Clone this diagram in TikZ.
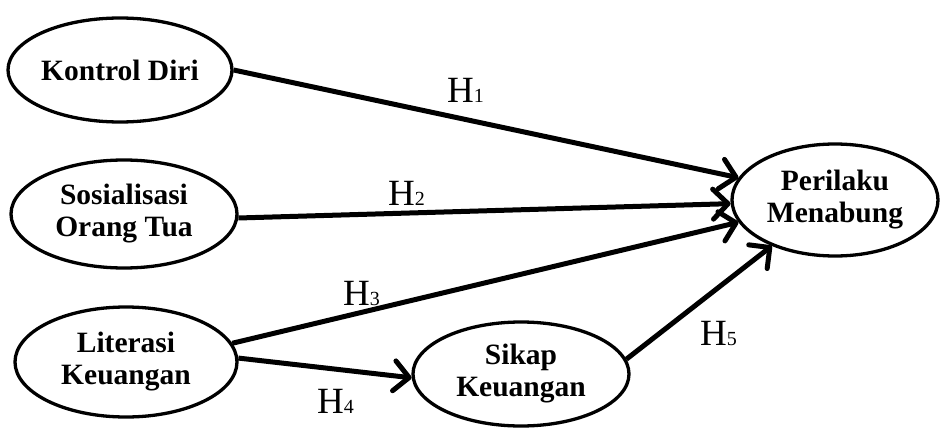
\documentclass[tikz,border=0pt]{standalone}
\usepackage{fontspec}
\setmainfont{Liberation Serif}
\usetikzlibrary{shapes.geometric,arrows.meta}
\tikzset{
  var/.style={ellipse, draw, line width=3.3pt, inner sep=0pt, align=center,
    font=\fontsize{29.5}{32}\selectfont\bfseries},
  path/.style={line width=5pt, -{Straight Barb[length=15pt,width=30pt,line width=5pt,round]}},
  hlab/.style={anchor=base west, inner sep=0pt, font=\fontsize{37}{40}\selectfont}
}
\newcommand{\hyp}[1]{H{\fontsize{20}{22}\selectfont #1}}
\begin{document}
\begin{tikzpicture}[x=1pt,y=-1pt]
\useasboundingbox (0,0) rectangle (942,428);
\node[var, minimum width=224pt, minimum height=104pt] (kd) at (120,70) {Kontrol Diri};
\node[var, minimum width=226pt, minimum height=108pt] (so) at (124,214) {Sosialisasi\\Orang Tua};
\node[var, minimum width=222pt, minimum height=110pt] (li) at (126,362) {Literasi\\Keuangan};
\node[var, minimum width=216pt, minimum height=104pt] (sk) at (521,374) {Sikap\\Keuangan};
\node[var, minimum width=206pt, minimum height=112pt] (pm) at (835,200) {Perilaku\\Menabung};
\draw[path] (kd.east) -- (pm.167);
\draw[path] (so.-2) -- (pm.182);
\draw[path] (li.10) -- (pm.193);
\draw[path] (li.2) -- (sk.182);
\draw[path] (sk.8) -- (pm.216);
\node[hlab] (h1) at (447,102) {\hyp{1}};
\node[hlab] (h2) at (388,205) {\hyp{2}};
\node[hlab] (h3) at (343,305) {\hyp{3}};
\node[hlab] (h4) at (317,413) {\hyp{4}};
\node[hlab] (h5) at (700,345) {\hyp{5}};
\end{tikzpicture}
\end{document}
